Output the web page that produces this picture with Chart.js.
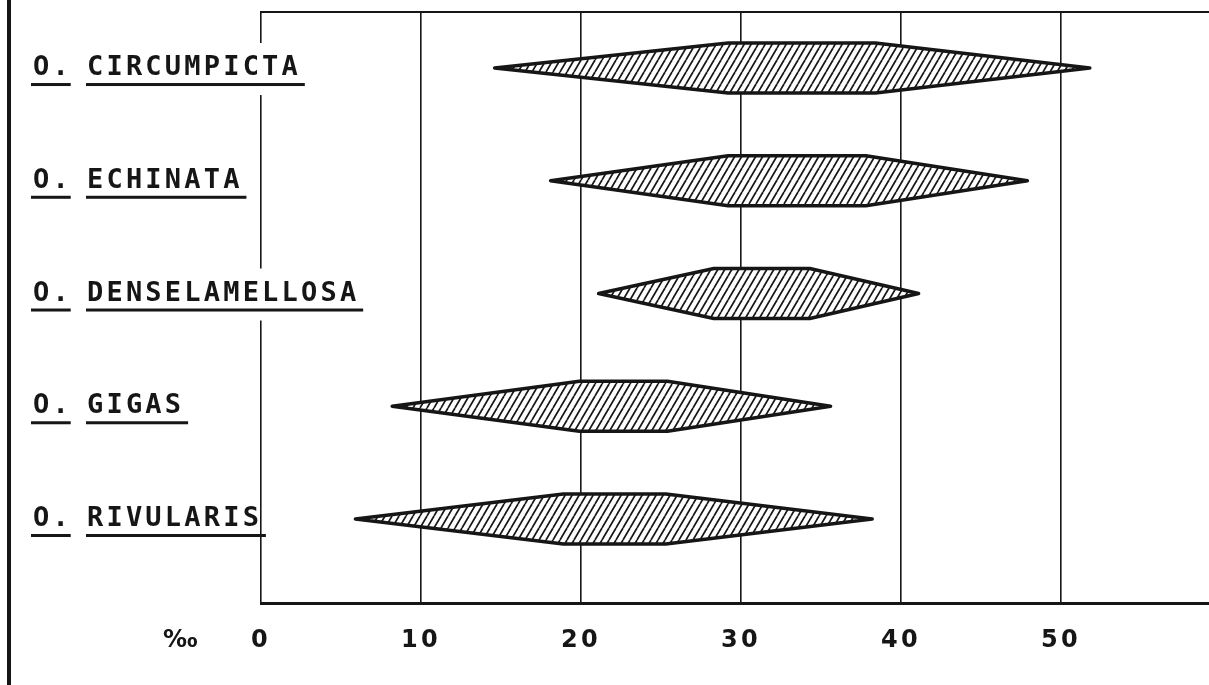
<!DOCTYPE html>
<html>
<head>
<meta charset="utf-8">
<script src="https://cdn.jsdelivr.net/npm/chart.js@4.4.1/dist/chart.umd.min.js"></script>
<style>
  html, body { margin: 0; padding: 0; background: #fff; }
  #wrap { position: relative; width: 1209px; height: 685px; }
  #frame { position: absolute; left: 7px; top: 0; width: 4px; height: 685px; background: #151515; }
  canvas { position: absolute; left: 0; top: 0; }
</style>
</head>
<body>
<div id="wrap">
  <canvas id="chart" width="1209" height="685"></canvas>
  <div id="frame"></div>
</div>
<script>
// salinity tolerance of oyster species (per mille)
const genus = 'O.';
const species = ['CIRCUMPICTA', 'ECHINATA', 'DENSELAMELLOSA', 'GIGAS', 'RIVULARIS'];
const salMin  = [14.6, 18.1, 21.1, 8.2, 5.9];
const optLow  = [29.2, 29.2, 28.3, 19.9, 18.9];
const optHigh = [38.4, 37.8, 34.3, 25.4, 25.3];
const salMax  = [51.8, 47.9, 41.1, 35.6, 38.2];
const xTicks = [0, 10, 20, 30, 40, 50];
const unitLabel = '‰';

const INK = '#161616';
const HALF = 0.222;           // half height of a band, in row units
const yFont = 'bold 27px "DejaVu Sans Mono"';
const SPACING = 3.2;
const NAME_SHIFT = -174;      // names start this far left of the plot

// diagonal hatching like the pen drawing
function makeHatch() {
  const c = document.createElement('canvas');
  c.width = 7;
  c.height = 12;
  const g = c.getContext('2d');
  g.fillStyle = '#fff';
  g.fillRect(0, 0, 7, 12);
  g.strokeStyle = INK;
  g.lineWidth = 1.7;
  for (let k = -1; k <= 1; k++) {
    g.beginPath();
    g.moveTo(k * 7, 12);
    g.lineTo(k * 7 + 7, 0);
    g.stroke();
  }
  return g.createPattern(c, 'repeat');
}
const hatch = makeHatch();

const datasets = species.map((name, i) => {
  const c = i + 1;
  return {
    label: genus + ' ' + name,
    data: [
      { x: optLow[i], y: c - HALF },
      { x: optHigh[i], y: c - HALF },
      { x: salMax[i], y: c },
      { x: optHigh[i], y: c + HALF },
      { x: optLow[i], y: c + HALF },
      { x: salMin[i], y: c },
      { x: optLow[i], y: c - HALF }
    ],
    borderColor: INK,
    borderWidth: 3.5,
    borderJoinStyle: 'round',
    borderCapStyle: 'round',
    backgroundColor: hatch,
    fill: 'shape',
    pointRadius: 0,
    tension: 0
  };
});

function nameWidth(ctx, text) {
  return ctx.measureText(text).width - SPACING;
}

// labels prefix, underlines, unit sign, gaps in the zero line
const decor = {
  id: 'decor',
  beforeDatasetsDraw(chart) {
    const { ctx, chartArea, scales: { y } } = chart;
    ctx.save();
    ctx.font = yFont;
    ctx.letterSpacing = SPACING + 'px';
    ctx.fillStyle = '#fff';
    species.forEach((name, i) => {
      const right = chartArea.left + NAME_SHIFT + nameWidth(ctx, name);
      if (right > chartArea.left + 2) {
        const py = y.getPixelForValue(i + 1);
        ctx.fillRect(chartArea.left - 3, py - 25, 6, 52);
      }
    });
    ctx.restore();
  },
  afterDatasetsDraw(chart) {
    chart.ctx.letterSpacing = SPACING + 'px';
  },
  afterDraw(chart) {
    const { ctx, chartArea, scales: { x, y } } = chart;
    ctx.save();
    ctx.font = yFont;
    ctx.letterSpacing = SPACING + 'px';
    ctx.textBaseline = 'middle';
    ctx.textAlign = 'left';
    ctx.fillStyle = INK;
    const nx = chartArea.left + NAME_SHIFT;
    species.forEach((name, i) => {
      const py = y.getPixelForValue(i + 1);
      ctx.fillText(genus, 33, py);
      ctx.fillRect(31, py + 15, nameWidth(ctx, genus) + 4, 3);
      ctx.fillRect(nx - 1, py + 15, nameWidth(ctx, name) + 8, 3);
    });
    ctx.letterSpacing = '0px';
    ctx.font = 'bold 24px "DejaVu Sans"';
    ctx.fillText(unitLabel, 163, x.top + 38);
    ctx.restore();
    ctx.letterSpacing = '0px';
  }
};

new Chart(document.getElementById('chart'), {
  type: 'line',
  data: { datasets },
  plugins: [decor],
  options: {
    responsive: false,
    animation: false,
    layout: { padding: { left: 87, top: 12, right: 0, bottom: 0 } },
    plugins: { legend: { display: false }, tooltip: { enabled: false } },
    scales: {
      x: {
        type: 'linear',
        min: 0,
        max: 59.25,
        afterBuildTicks: s => { s.ticks = xTicks.map(v => ({ value: v })); },
        afterFit: s => { s.height = 82; },
        grid: { color: INK, lineWidth: 1.6, drawTicks: false },
        border: { color: INK, width: 3 },
        ticks: {
          color: INK,
          font: { family: 'DejaVu Sans', size: 24, weight: 'bold' },
          padding: 23,
          z: 1,
          autoSkip: false,
          maxRotation: 0,
          callback: v => String(v)
        }
      },
      x2: {
        type: 'linear',
        position: 'top',
        grid: { display: false, drawTicks: false },
        ticks: { display: false },
        border: { display: true, color: INK, width: 2 }
      },
      y: {
        type: 'linear',
        reverse: true,
        min: 0.503,
        max: 5.745,
        afterBuildTicks: s => { s.ticks = species.map((_, i) => ({ value: i + 1 })); },
        afterFit: s => { s.width = 174; },
        grid: { display: false, drawTicks: false },
        border: { display: false },
        ticks: {
          mirror: true,
          padding: NAME_SHIFT,
          z: 1,
          color: INK,
          font: { family: 'DejaVu Sans Mono', size: 27, weight: 'bold' },
          callback: v => species[Math.round(v) - 1] || ''
        }
      }
    }
  }
});
</script>
</body>
</html>
